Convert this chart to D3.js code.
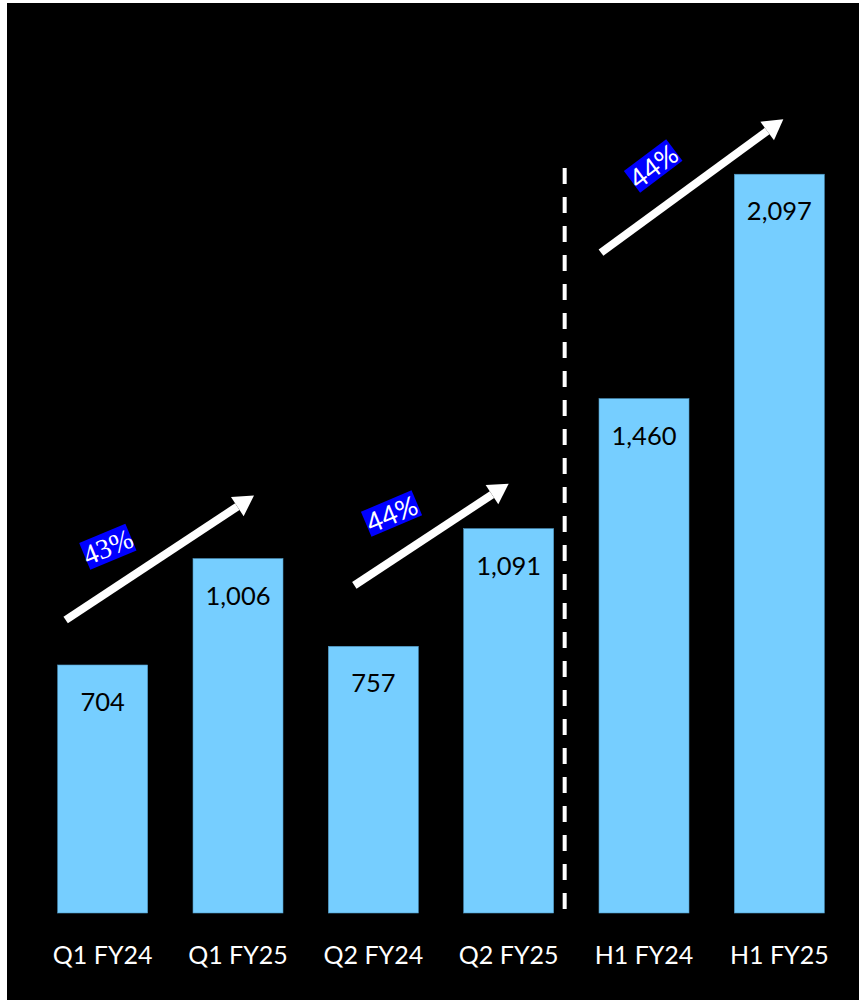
<!DOCTYPE html>
<html>
<head>
<meta charset="utf-8">
<script src="https://cdn.jsdelivr.net/npm/d3@7"></script>
<style>
  html, body { margin: 0; padding: 0; background: #ffffff; }
  svg { display: block; }
  .serif-label { font-family: "Liberation Serif", "Times New Roman", "DejaVu Serif", serif; }
  .sans-label { font-family: Lato, "Open Sans", sans-serif; }
</style>
</head>
<body>
<svg id="chart" width="859" height="1000"></svg>
<script>
// Period labels and the metric for each period
const categories = ["Q1 FY24", "Q1 FY25", "Q2 FY24", "Q2 FY25", "H1 FY24", "H1 FY25"];
const values = [704, 1006, 757, 1091, 1460, 2097];
const valueLabels = ["704", "1,006", "757", "1,091", "1,460", "2,097"];

// Year-on-year growth between each pair of periods
const growthFrom = ["Q1 FY24", "Q2 FY24", "H1 FY24"];
const growthTo = ["Q1 FY25", "Q2 FY25", "H1 FY25"];
const growthLabels = ["43%", "44%", "44%"];

const W = 859, H = 1000;
const svg = d3.select("#chart");

// Black panel
svg.append("rect")
  .attr("x", 7).attr("y", 3)
  .attr("width", W - 7).attr("height", H - 3)
  .attr("fill", "#000000");

const x = d3.scaleBand()
  .domain(categories)
  .range([35, 847])
  .paddingInner(0.335)
  .paddingOuter(0.1675);

const baseY = 913;
const y = d3.scaleLinear()
  .domain([0, 2400])
  .range([baseY, baseY - 2400 * 0.3523]);

const data = categories.map((c, i) => ({ cat: c, value: values[i], label: valueLabels[i] }));

// Bars
svg.append("g")
  .selectAll("rect")
  .data(data)
  .join("rect")
  .attr("x", d => x(d.cat))
  .attr("y", d => y(d.value))
  .attr("width", x.bandwidth())
  .attr("height", d => y(0) - y(d.value))
  .attr("fill", "#76CEFF")
  .attr("stroke", "#4f97c2")
  .attr("stroke-width", 0.6);

// Value labels inside the bars
svg.append("g")
  .selectAll("text")
  .data(data)
  .join("text")
  .attr("class", "sans-label")
  .attr("x", d => x(d.cat) + x.bandwidth() / 2)
  .attr("y", d => y(d.value) + 36)
  .attr("text-anchor", "middle")
  .attr("dominant-baseline", "central")
  .attr("font-size", 25.5)
  .attr("fill", "#000000")
  .text(d => d.label);

// Category axis labels
const xAxis = d3.axisBottom(x).tickSize(0).tickPadding(0);
const axisG = svg.append("g")
  .attr("transform", `translate(0, ${baseY})`)
  .call(xAxis)
  .attr("font-family", null);
axisG.select(".domain").remove();
axisG.selectAll("text")
  .attr("class", "sans-label")
  .attr("y", 42)
  .attr("dy", "0.35em")
  .attr("font-size", 25)
  .attr("fill", "#ffffff");

// Dashed separator between quarterly and half-year figures
const sepX = x("Q2 FY25") + x.bandwidth() + 11;
svg.append("line")
  .attr("x1", sepX).attr("x2", sepX)
  .attr("y1", 168).attr("y2", baseY)
  .attr("stroke", "#ffffff")
  .attr("stroke-width", 4)
  .attr("stroke-dasharray", "16,13");

// Growth arrows: tail near the earlier bar, tip above the later bar
const arrowLayout = [
  { tail: [8, -45], tip: [-29, -63], lbl: [-52, -11], angle: -22.5, box: [50, 29], serif: true },
  { tail: [26, -61], tip: [-45, -45], lbl: [-40, -21], angle: -23, box: [55, 27], serif: false },
  { tail: [2, -146], tip: [-41, -55], lbl: [-39, -20], angle: -37, box: [53, 27], serif: false }
];

growthFrom.forEach((from, i) => {
  const L = arrowLayout[i];
  const fromVal = values[categories.indexOf(from)];
  const toVal = values[categories.indexOf(growthTo[i])];
  const x1 = x(from) + L.tail[0];
  const y1 = y(fromVal) + L.tail[1];
  const x2 = x(growthTo[i]) + x.bandwidth() + L.tip[0];
  const y2 = y(toVal) + L.tip[1];

  // shaft stops short of the tip so the head keeps its point
  const ang = Math.atan2(y2 - y1, x2 - x1);
  const headLen = 20;
  const hx = x2 - Math.cos(ang) * headLen, hy = y2 - Math.sin(ang) * headLen;
  svg.append("line")
    .attr("x1", x1).attr("y1", y1)
    .attr("x2", hx).attr("y2", hy)
    .attr("stroke", "#ffffff")
    .attr("stroke-width", 8);
  const px = -Math.sin(ang) * 11.5, py = Math.cos(ang) * 11.5;
  svg.append("path")
    .attr("d", `M${x2},${y2} L${hx + px},${hy + py} L${hx - px},${hy - py} Z`)
    .attr("fill", "#ffffff");

  // rotated growth label
  const cx = (x1 + x2) / 2 + L.lbl[0];
  const cy = (y1 + y2) / 2 + L.lbl[1];
  const g = svg.append("g")
    .attr("transform", `translate(${cx},${cy}) rotate(${L.angle})`);
  g.append("rect")
    .attr("x", -L.box[0] / 2).attr("y", -L.box[1] / 2)
    .attr("width", L.box[0]).attr("height", L.box[1])
    .attr("fill", "#0000FF");
  g.append("text")
    .attr("class", L.serif ? "serif-label" : "sans-label")
    .attr("text-anchor", "middle")
    .attr("dominant-baseline", "central")
    .attr("font-size", L.serif ? 28 : 27)
    .attr("fill", "#ffffff")
    .text(growthLabels[i]);
});
</script>
</body>
</html>
